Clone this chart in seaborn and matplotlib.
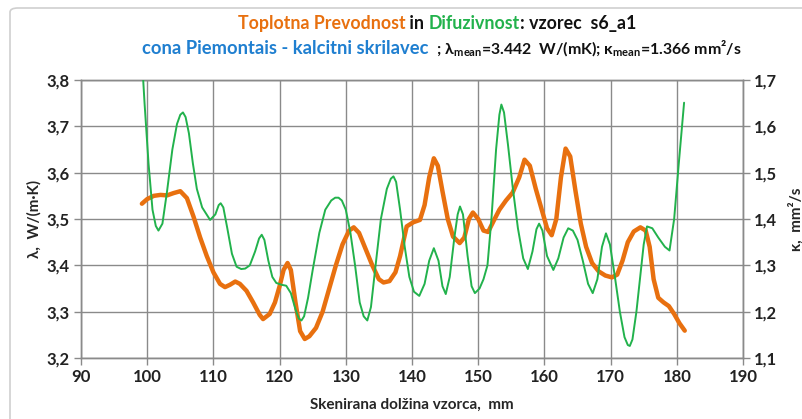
# -*- coding: utf-8 -*-

import matplotlib
matplotlib.use('Agg')
import matplotlib.pyplot as plt
from matplotlib.patches import FancyBboxPatch
from matplotlib.ticker import FuncFormatter, MultipleLocator
import seaborn as sns
import pandas as pd

# toplotna prevodnost (lambda), W/(m*K)
lam_x = [99.2, 100, 101, 102, 103, 104, 105, 106, 107, 108, 109, 110, 111, 111.75, 112.5, 113.3,
         114, 115, 116, 117, 117.5, 118.5, 119.3, 120, 120.6, 121.2, 121.7, 122.4, 123.1, 123.8,
         124.5, 125.5, 126.5, 127.5, 128.5, 129.5, 130.5, 131.2, 132, 133, 134, 135, 135.7, 136.6,
         137.5, 138.2, 139.2, 140.2, 141.2, 141.9, 142.6, 143.3, 143.9, 144.6, 145.4, 146.2, 147.2,
         147.9, 148.6, 149.2, 150, 150.8, 151.5, 152.3, 153.2, 154.2, 155.2, 156.2, 157, 157.8,
         158.7, 159.6, 160.4, 161.1, 161.8, 162.5, 163.2, 163.9, 164.7, 165.5, 166.3, 167.2, 168.2,
         169.2, 170.2, 171, 171.8, 172.6, 173.5, 174.5, 175.3, 175.9, 176.5, 177.2, 178, 178.8,
         179.6, 180.4, 181.2]
lam_y = [3.533, 3.543, 3.550, 3.552, 3.551, 3.556, 3.560, 3.545, 3.505, 3.46, 3.42, 3.385, 3.36,
         3.353, 3.358, 3.365, 3.36, 3.345, 3.32, 3.293, 3.284, 3.295, 3.32, 3.355, 3.39, 3.405,
         3.39, 3.32, 3.258, 3.241, 3.247, 3.265, 3.30, 3.35, 3.40, 3.445, 3.475, 3.482, 3.47, 3.435,
         3.40, 3.37, 3.363, 3.366, 3.385, 3.42, 3.484, 3.493, 3.498, 3.53, 3.59, 3.631, 3.615, 3.56,
         3.50, 3.462, 3.448, 3.46, 3.50, 3.514, 3.50, 3.475, 3.472, 3.495, 3.52, 3.54, 3.557, 3.59,
         3.628, 3.615, 3.565, 3.52, 3.48, 3.465, 3.50, 3.59, 3.652, 3.635, 3.56, 3.49, 3.44, 3.405,
         3.387, 3.378, 3.374, 3.38, 3.41, 3.45, 3.473, 3.482, 3.475, 3.44, 3.37, 3.33, 3.32, 3.312,
         3.295, 3.275, 3.259]

# difuzivnost (kappa), mm2/s
kap_x = [99.15, 99.6, 100.2, 100.8, 101.3, 101.7, 102.3, 103, 103.8, 104.5, 105, 105.4, 105.8,
         106.3, 106.9, 107.5, 108.3, 109.5, 110.3, 110.8, 111.1, 111.5, 112.1, 112.8, 113.5,
         114.2, 114.8, 115.5, 116.3, 116.9, 117.3, 117.7, 118.3, 118.9, 119.5, 120.3, 121, 121.7,
         122.4, 122.9, 123.3, 123.7, 124.3, 125, 126, 126.9, 127.8, 128.4, 128.9, 129.4, 130,
         130.7, 131.4, 132.1, 132.7, 133.25, 133.8, 134.5, 135.3, 136.2, 136.8, 137.2, 137.6,
         138.2, 138.9, 139.6, 140.3, 141.1, 141.9, 142.6, 143.3, 144, 144.6, 145.1, 145.7, 146.4,
         146.9, 147.25, 147.7, 148.4, 149, 149.5, 150.2, 150.8, 151.4, 152, 152.7, 153.2, 153.5,
         153.9, 154.5, 155.2, 156, 156.8, 157.5, 158.2, 158.8, 159.2, 159.7, 160.4, 161.35,
         162.1, 162.9, 163.6, 164.3, 165, 165.8, 166.6, 167.3, 168, 168.7, 169.3, 169.9, 170.6,
         171.4, 172.1, 172.6, 172.9, 173.3, 173.9, 174.5, 175, 175.5, 176.3, 177.2, 178.2, 178.9,
         179.6, 180.3, 181.1]
kap_y = [1.76, 1.65, 1.52, 1.42, 1.385, 1.375, 1.39, 1.46, 1.55, 1.605, 1.625, 1.63, 1.62,
         1.585, 1.52, 1.465, 1.425, 1.398, 1.41, 1.43, 1.434, 1.425, 1.38, 1.325, 1.297, 1.292,
         1.293, 1.30, 1.33, 1.358, 1.366, 1.355, 1.31, 1.275, 1.262, 1.258, 1.256, 1.24, 1.205,
         1.185, 1.181, 1.19, 1.23, 1.29, 1.37, 1.42, 1.44, 1.446, 1.446, 1.44, 1.42, 1.37, 1.30,
         1.22, 1.19, 1.181, 1.21, 1.30, 1.40, 1.465, 1.487, 1.492, 1.48, 1.42, 1.34, 1.275, 1.243,
         1.234, 1.26, 1.31, 1.337, 1.31, 1.255, 1.238, 1.275, 1.36, 1.41, 1.427, 1.41, 1.32,
         1.255, 1.240, 1.25, 1.27, 1.30, 1.40, 1.55, 1.625, 1.647, 1.63, 1.56, 1.47, 1.38, 1.315,
         1.292, 1.33, 1.378, 1.39, 1.375, 1.32, 1.29, 1.315, 1.36, 1.38, 1.375, 1.355, 1.31,
         1.26, 1.24, 1.27, 1.34, 1.369, 1.345, 1.28, 1.20, 1.145, 1.128, 1.126, 1.14, 1.20, 1.28,
         1.345, 1.384, 1.38, 1.36, 1.34, 1.332, 1.40, 1.52, 1.651]

lam_mean = 3.442
kap_mean = 1.366

ORANGE = '#E8700F'
GREEN = '#22B24C'
BLUE = '#1F7FD0'
GRID = '#8A8A8A'

sns.set_theme(style='white')
plt.rcParams['font.family'] = ['Lato', 'DejaVu Sans']
plt.rcParams['font.weight'] = 'bold'
plt.rcParams['mathtext.default'] = 'regular'

fig = plt.figure(figsize=(8.03, 4.19), dpi=100)
ax = fig.add_axes([81 / 803, 1 - 358 / 419, 662 / 803, 278 / 419])

df_lam = pd.DataFrame({'x': lam_x, 'y': lam_y})
df_kap = pd.DataFrame({'x': kap_x, 'y': kap_y})

sns.lineplot(data=df_lam, x='x', y='y', ax=ax, color=ORANGE, lw=3.2, zorder=4,
             solid_capstyle='round', solid_joinstyle='round', sort=False)
ax2 = ax.twinx()
sns.lineplot(data=df_kap, x='x', y='y', ax=ax2, color=GREEN, lw=1.4, zorder=5,
             solid_joinstyle='round', sort=False)

ax.set_xlim(90, 190)
ax.set_ylim(3.2, 3.8)
ax2.set_ylim(1.1, 1.7)
ax.xaxis.set_major_locator(MultipleLocator(10))
ax.yaxis.set_major_locator(MultipleLocator(0.1))
ax2.yaxis.set_major_locator(MultipleLocator(0.1))

comma = FuncFormatter(lambda v, p: f"{v:.1f}".replace('.', ','))
ax.yaxis.set_major_formatter(comma)
ax2.yaxis.set_major_formatter(comma)
ax.xaxis.set_major_formatter(FuncFormatter(lambda v, p: f"{v:.0f}"))

ax.grid(True, color=GRID, lw=1.0)
for a in (ax, ax2):
    for s in a.spines.values():
        s.set_color(GRID)
        s.set_linewidth(1.0)
ax.set_zorder(ax2.get_zorder() - 1)
ax2.patch.set_visible(False)

ax.tick_params(axis='both', which='major', direction='out', length=5, width=1, color=GRID,
               labelsize=12, pad=3, left=True, bottom=True)
ax2.tick_params(axis='y', direction='out', length=5, width=1, color=GRID, labelsize=12, pad=3,
                right=True)
for lbl in ax.get_xticklabels() + ax.get_yticklabels() + ax2.get_yticklabels():
    lbl.set_fontweight('bold')
    lbl.set_color('#222222')

ax.set_xlabel('Skenirana dolžina vzorca,  mm', fontsize=11, fontweight='bold', labelpad=9)
ax.set_ylabel('λ,  W/(m·K)', fontsize=11, fontweight='bold', labelpad=4)
ax2.set_ylabel('κ,  mm²/s', fontsize=11, fontweight='bold', labelpad=8, rotation=90)


# naslov iz vec barvnih delov
def colored_line(parts, cx, y):
    texts = [fig.text(0, y, s, color=c, fontsize=fs, fontweight='bold', va='baseline')
             for s, c, fs in parts]
    fig.canvas.draw()
    r = fig.canvas.get_renderer()
    widths = [t.get_window_extent(r).width / fig.bbox.width for t in texts]
    x = cx - sum(widths) / 2
    for t, w in zip(texts, widths):
        t.set_x(x)
        x += w


colored_line([('Toplotna Prevodnost', ORANGE, 12.8), (' in ', '#111111', 12.8),
              ('Difuzivnost', GREEN, 12.8), (': vzorec  s6_a1', '#111111', 12.8)],
             437 / 803, 1 - 29 / 419)
colored_line([('cona Piemontais - kalcitni skrilavec', BLUE, 13.2),
              (r'  ; $\lambda_{mean}$' + f'={lam_mean:.3f}  W/(mK); ' + r'$\kappa_{mean}$'
               + f'={kap_mean:.3f} mm²/s', '#111111', 11.4)],
             442 / 803, 1 - 54 / 419)

# okvir
frame = FancyBboxPatch((10 / 803, -0.05), 1.2, 1 - 8 / 419 + 0.05,
                       boxstyle='round,pad=0,rounding_size=0.01', transform=fig.transFigure,
                       fc='none', ec='#CFCFCF', lw=1.2, clip_on=False)
fig.patches.append(frame)

fig.savefig('out.png', dpi=100)
